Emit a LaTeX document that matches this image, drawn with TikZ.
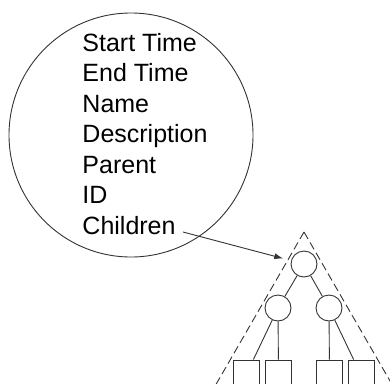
\documentclass[tikz,border=0pt]{standalone}
\usepackage{fontspec}
\setmainfont{Liberation Sans}
\usetikzlibrary{arrows.meta, positioning}

\begin{document}
\begin{tikzpicture}[x=1pt, y=-1pt, >={Latex[length=9pt, width=6pt]},
    line width=0.9pt, draw=black!80,
    field/.style={anchor=base west, inner sep=0pt, font=\fontsize{25}{30}\selectfont},
    item/.style={draw, circle, minimum size=26pt, inner sep=0pt},
    leaf/.style={draw, rectangle, minimum width=26pt, minimum height=30pt, inner sep=0pt},
    hull/.style={draw, dash pattern=on 8pt off 4pt}]
    \useasboundingbox (0,0) rectangle (390,383);
    \clip (0,0) rectangle (390,383);

    % Record
    \node (record) [draw, circle, minimum size=244pt] at (131,135) {};
    \node (start) [field] at (82,51) {Start Time};
    \node (end) [field] at (82,81.5) {End Time};
    \node (name) [field] at (82,112) {Name};
    \node (desc) [field] at (82,142.5) {Description};
    \node (parent) [field] at (82,173) {Parent};
    \node (id) [field] at (82,203.5) {ID};
    \node (children) [field] at (82,234) {Children};

    % Tree
    \node (root) [item] at (304,264) {};
    \node (left) [item] at (278,308) {};
    \node (right) [item] at (329,308) {};

    \node (leaf1) [leaf] at (246,375) {};
    \node (leaf2) [leaf] at (278.5,375) {};
    \node (leaf3) [leaf] at (329.5,375) {};
    \node (leaf4) [leaf] at (361,375) {};

    \draw (root) -- (left);
    \draw (root) -- (right);
    \draw (left) -- (leaf1);
    \draw (left) -- (leaf2);
    \draw (right) -- (leaf3);
    \draw (right) -- (leaf4);

    \coordinate (apex) at (304,232);
    \draw [hull] (apex) -- ++(-97,168);
    \draw [hull] (apex) -- ++(97,168);

    \draw [->, shorten >=8pt] ([xshift=7pt, yshift=2pt]children.base east) -- (root);
\end{tikzpicture}
\end{document}
